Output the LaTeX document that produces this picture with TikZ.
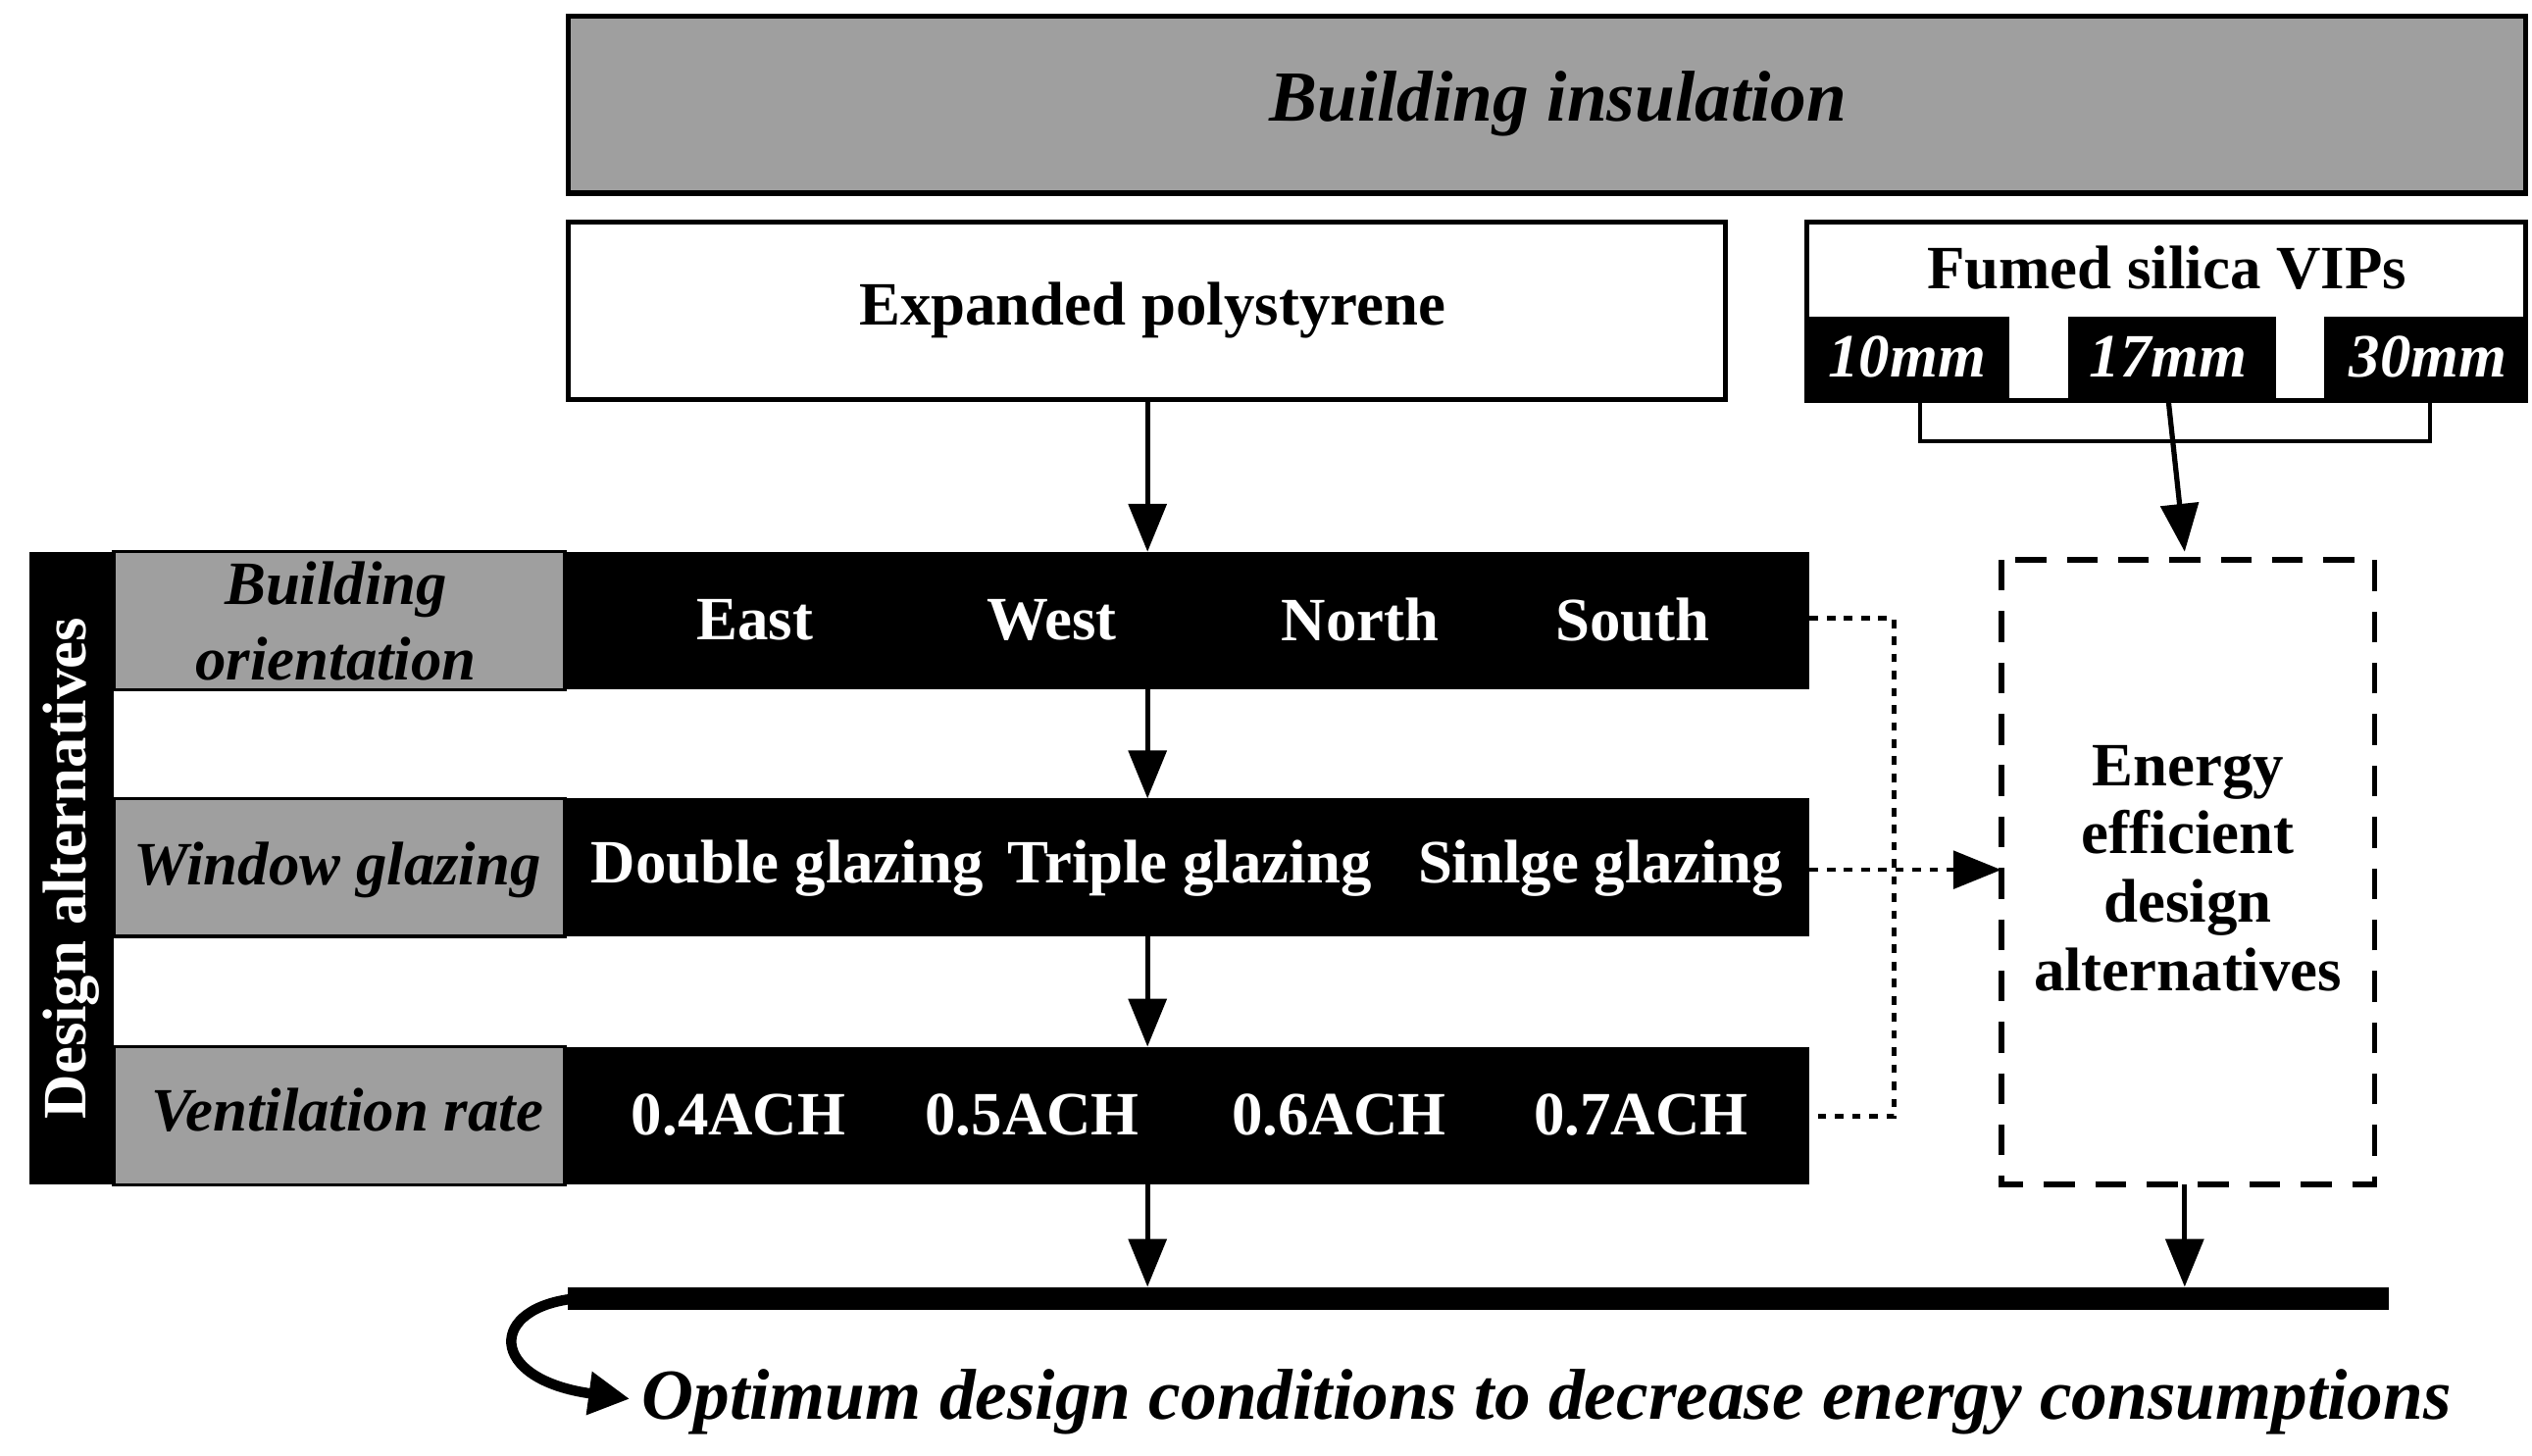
\documentclass[tikz,border=0pt]{standalone}
\usepackage{fontspec}
\setmainfont{Liberation Serif}
\usetikzlibrary{arrows.meta}
\begin{document}
\begin{tikzpicture}[x=0.016667cm,y=-0.016667cm,
  txt/.style={font=\fontsize{18}{20}\selectfont\bfseries},
  itx/.style={font=\fontsize{18}{20}\selectfont\bfseries\itshape},
  wtx/.style={txt,text=white},
  wit/.style={itx,text=white},
  arr/.style={-{Triangle[length=14pt,width=11pt]},line width=1.5pt},
  dot/.style={dash pattern=on 2.5pt off 2.5pt,line width=1.3pt},
  blk/.style={fill=black,draw=black},
  gry/.style={fill=gray!75,draw=black,line width=1pt}]
\useasboundingbox (0,0) rectangle (1560,897);
% top
\draw[gry,line width=1.5pt] (350,10) rectangle (1556,119);
\node[font=\fontsize{21}{24}\selectfont\bfseries\itshape] (bi) at (960,64) {Building insulation};
\draw[line width=1.5pt] (350,137) rectangle (1063,246);
\node[txt] (eps) at (710,191) {Expanded polystyrene};
\coordinate (epsb) at (707,246);
\draw[line width=1.5pt] (1113,137) rectangle (1556,247);
\node[txt] (fs) at (1335,165) {Fumed silica VIPs};
\fill[black] (1113,195) rectangle (1238,247);
\fill[black] (1274,195) rectangle (1402,247);
\fill[black] (1432,195) rectangle (1556,247);
\node[wit] (m10) at (1175,220) {10mm};
\node[wit] (m17) at (1336,220) {17mm};
\node[wit] (m30) at (1496,220) {30mm};
\draw[line width=1.2pt] (1183,247) -- (1183,272) -- (1497,272) -- (1497,247);
% design column
\fill[black] (18,340) rectangle (70,730);
\node[wtx,rotate=90] (da) at (44,535) {Design alternatives};
% rows
\foreach \a/\b in {340/425,492/577,645/730}{
  \fill[black] (348,\a) rectangle (1115,\b);
  \draw[gry] (70,\a) rectangle (348,\b);}
\node[itx,align=center,inner sep=0pt] (bo) at (207,383) {Building\\[2pt]orientation};
\node[wtx] (e) at (465,382) {East};
\node[wtx] (w) at (648,382) {West};
\node[wtx] (n) at (838,382) {North};
\node[wtx] (s) at (1006,382) {South};
\node[itx] (wg) at (208,536) {Window glazing};
\node[wtx] (dg) at (485,535) {Double glazing};
\node[wtx] (tg) at (733,535) {Triple glazing};
\node[wtx] (sg) at (986,535) {Sinlge glazing};
\node[itx] (vr) at (214,684) {Ventilation rate};
\node[wtx] (a4) at (455,687) {0.4ACH};
\node[wtx] (a5) at (636,687) {0.5ACH};
\node[wtx] (a6) at (825,687) {0.6ACH};
\node[wtx] (a7) at (1011,687) {0.7ACH};
% dashed box
\draw[line width=1.6pt,dash pattern=on 9pt off 6pt] (1233,345) rectangle (1463,730);
\node[txt,align=center] (ee) at (1348,535) {Energy\\efficient\\design\\alternatives};
% arrows
\coordinate (r1t) at (707,340); \coordinate (r1b) at (707,425);
\coordinate (r2t) at (707,492); \coordinate (r2b) at (707,577);
\coordinate (r3t) at (707,645); \coordinate (r3b) at (707,730);
\coordinate (bar1) at (707,793); \coordinate (bar2) at (1346,793);
\coordinate (brk) at (1346,272); \coordinate (bxt) at (1346,340);
\coordinate (bxb) at (1346,730);
\draw[arr] (epsb) -- (r1t);
\draw[arr] (r1b) -- (r2t);
\draw[arr] (r2b) -- (r3t);
\draw[arr] (r3b) -- (bar1);
\draw[arr] (m17.south |- 0,247) -- (bxt);
\draw[arr] (bxb) -- (bar2);
% dotted
\draw[dot] (1115,381) -- (1167,381) -- (1167,688) -- (1115,688);
\draw[dot,-{Triangle[length=14pt,width=11pt]}] (1115,536) -- (1233,536);
% bar
\fill[black] (350,793) rectangle (1472,807);
\draw[line width=3pt,-{Triangle[length=12pt,width=12pt]}] (356,800) .. controls (300,805) and (300,850) .. (388,862);
\node[font=\fontsize{21}{24}\selectfont\bfseries\itshape,anchor=west] (opt) at (388,864) {Optimum design conditions to decrease energy consumptions};
\end{tikzpicture}
\end{document}
